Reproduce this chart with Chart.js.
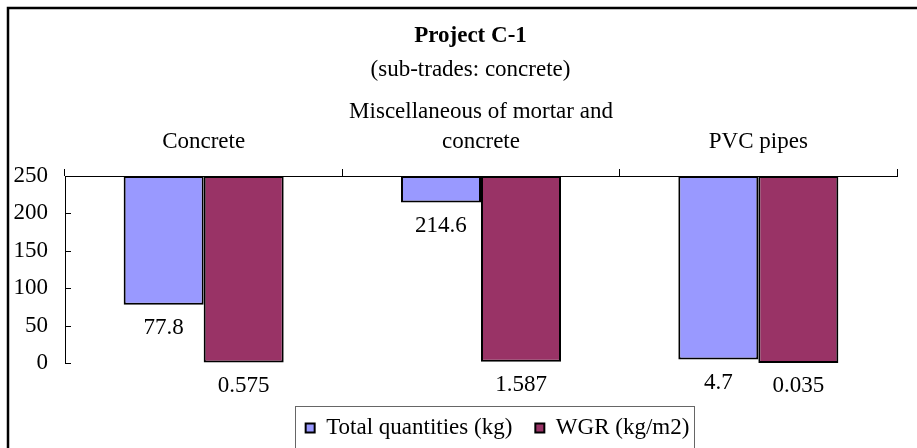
<!DOCTYPE html>
<html lang="en">
<head>
<meta charset="UTF-8">
<title>Project C-1</title>
<script src="https://cdn.jsdelivr.net/npm/chart.js"></script>
<style>
  html, body { margin: 0; padding: 0; background: #fff; overflow: hidden; }
  #wrap { width: 917px; height: 448px; }
</style>
</head>
<body>
<div id="wrap"><canvas id="wasteChart" width="917" height="448"></canvas></div>
<script>
// categories and values
const categories = [['Concrete'], ['Miscellaneous of mortar and', 'concrete'], ['PVC pipes']];
const totalQty = [77.8, 214.6, 4.7];
const wgr = [0.575, 1.587, 0.035];
const yMin = 0;
const yMax = 250;
const yStep = 50;

const serif = '"Liberation Serif", "Times New Roman", serif';

// frame, inward y ticks, value labels under the bars, legend box
const decorations = {
    id: 'decorations',
    beforeDraw(chart) {
        const ctx = chart.ctx;
        ctx.save();
        ctx.fillStyle = '#fff';
        ctx.fillRect(0, 0, chart.width, chart.height);
        ctx.strokeStyle = '#000';
        ctx.lineWidth = 2.5;
        ctx.strokeRect(8, 8, chart.width + 20, chart.height + 20);
        ctx.restore();
    },
    afterLayout(chart) {
        // title + subtitle sit a bit right of the canvas centre in the original
        chart.boxes.forEach(b => {
            if (b.options && typeof b.options.text === 'string') {
                b.left += 18; b.right += 18;
            }
        });
        // push the legend down below the value labels and line it up with the plot
        const lg = chart.legend;
        lg.top += 30.5;
        lg.bottom = chart.height + 20;
        lg.left += 45; lg.right += 45;
    },
    afterDatasetsDraw(chart) {
        const ctx = chart.ctx;
        const y = chart.scales.y;
        ctx.save();
        ctx.strokeStyle = '#000';
        ctx.lineWidth = 1;
        y.ticks.forEach(t => {
            const py = Math.round(y.getPixelForValue(t.value)) + 0.5;
            ctx.beginPath();
            ctx.moveTo(y.right, py);
            ctx.lineTo(y.right + 6, py);
            ctx.stroke();
        });
        ctx.fillStyle = '#000';
        ctx.font = '23px ' + serif;
        ctx.textAlign = 'center';
        ctx.textBaseline = 'middle';
        chart.data.datasets.forEach((ds, i) => {
            chart.getDatasetMeta(i).data.forEach((bar, j) => {
                ctx.fillText(String(ds.data[j]), bar.x, bar.y + 23);
            });
        });
        ctx.restore();
    },
    afterDraw(chart) {
        const hb = chart.legend.legendHitBoxes;
        if (!hb || !hb.length) return;
        const first = hb[0], last = hb[hb.length - 1];
        const left = Math.round(first.left - 11) + 0.5;
        const right = Math.round(last.left + last.width + 5) + 0.5;
        const top = Math.round(first.top - 10.5) + 0.5;
        const ctx = chart.ctx;
        ctx.save();
        ctx.strokeStyle = '#666';
        ctx.lineWidth = 1;
        ctx.strokeRect(left, top, right - left, chart.height - top + 10);
        ctx.restore();
    }
};

new Chart(document.getElementById('wasteChart'), {
    type: 'bar',
    data: {
        labels: categories,
        datasets: [
            {
                label: 'Total quantities (kg)',
                data: totalQty,
                backgroundColor: '#9999FF',
                borderColor: '#000',
                borderWidth: 2,
                borderSkipped: false,
                base: yMax
            },
            {
                label: 'WGR (kg/m2)',
                data: wgr,
                backgroundColor: '#993366',
                borderColor: '#000',
                borderWidth: 2,
                borderSkipped: false,
                base: yMax
            }
        ]
    },
    options: {
        responsive: false,
        animation: false,
        devicePixelRatio: 1,
        layout: { padding: { left: 8, top: 8, right: 20, bottom: 45 } },
        datasets: { bar: { categoryPercentage: 0.577, barPercentage: 1 } },
        scales: {
            x: {
                position: 'top',
                grid: { offset: true, drawOnChartArea: false, color: '#000', tickLength: 7 },
                border: { color: '#000' },
                ticks: {
                    color: '#000',
                    font: { family: serif, size: 23, lineHeight: '30px' },
                    padding: 12,
                    maxRotation: 0,
                    autoSkip: false
                },
                afterFit(s) { s.height = 92.2; }
            },
            y: {
                min: yMin,
                max: yMax,
                ticks: { stepSize: yStep, color: '#000', font: { family: serif, size: 23 }, padding: 17 },
                grid: { display: false, drawTicks: false },
                border: { color: '#000' },
                afterFit(s) { s.width = 57; }
            }
        },
        plugins: {
            title: {
                display: true,
                text: 'Project C-1',
                color: '#000',
                font: { family: serif, size: 23, weight: 'bold' },
                padding: { top: 14, bottom: 0 }
            },
            subtitle: {
                display: true,
                text: '(sub-trades: concrete)',
                color: '#000',
                font: { family: serif, size: 23 },
                padding: { top: 6.6, bottom: 0 }
            },
            legend: {
                position: 'bottom',
                maxHeight: 40,
                labels: {
                    boxWidth: 9,
                    boxHeight: 9,
                    padding: 23,
                    color: '#000',
                    font: { family: serif, size: 23 }
                }
            },
            tooltip: { enabled: false }
        }
    },
    plugins: [decorations]
});
</script>
</body>
</html>
